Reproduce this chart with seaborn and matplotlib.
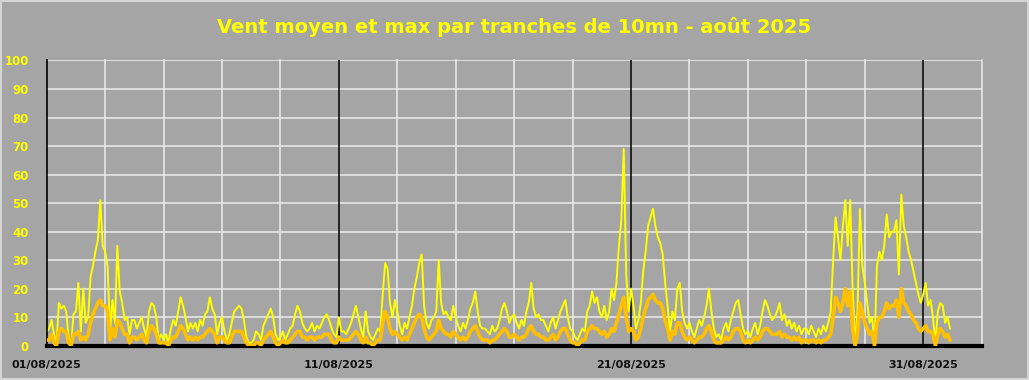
import numpy as np
import pandas as pd
import matplotlib
matplotlib.use("Agg")
import matplotlib.pyplot as plt
from matplotlib.patches import Rectangle
import seaborn as sns

# 2-hour readings (12 per day), Aug 1 .. Aug 31 2025
vent_max = [
    [5, 6, 9, 4, 0, 15, 13, 14, 12, 3, 0, 11],
    [12, 22, 5, 20, 8, 10, 24, 28, 33, 37, 51, 35],
    [33, 28, 5, 16, 8, 35, 19, 15, 9, 10, 4, 9],
    [9, 6, 8, 10, 6, 3, 12, 15, 14, 10, 2, 4],
    [2, 4, 1, 6, 9, 7, 12, 17, 14, 10, 5, 8],
    [6, 8, 5, 9, 7, 11, 12, 17, 13, 11, 4, 8],
    [10, 5, 2, 4, 8, 12, 13, 14, 13, 9, 3, 1],
    [1, 2, 5, 4, 2, 7, 9, 11, 13, 10, 4, 2],
    [3, 5, 2, 4, 6, 7, 11, 14, 12, 8, 6, 5],
    [6, 8, 5, 7, 6, 8, 10, 11, 9, 6, 4, 3],
    [10, 5, 5, 4, 6, 8, 11, 14, 10, 6, 3, 12],
    [5, 3, 2, 4, 6, 5, 18, 29, 27, 15, 10, 16],
    [12, 7, 4, 8, 6, 10, 14, 20, 24, 29, 32, 14],
    [8, 6, 9, 10, 12, 30, 15, 11, 12, 10, 9, 14],
    [10, 7, 5, 8, 6, 9, 13, 15, 19, 12, 7, 6],
    [6, 5, 4, 7, 5, 6, 9, 13, 15, 12, 8, 10],
    [11, 8, 6, 9, 7, 12, 15, 22, 13, 10, 11, 9],
    [9, 7, 5, 8, 10, 6, 9, 12, 14, 16, 10, 6],
    [5, 3, 2, 4, 6, 5, 12, 14, 19, 15, 17, 12],
    [10, 14, 9, 12, 20, 16, 22, 35, 44, 69, 25, 12],
    [20, 14, 6, 9, 15, 26, 33, 42, 45, 48, 42, 38],
    [36, 32, 22, 14, 5, 12, 9, 20, 22, 12, 8, 6],
    [8, 5, 3, 6, 9, 7, 10, 14, 20, 12, 6, 3],
    [4, 2, 6, 8, 5, 9, 12, 15, 16, 11, 6, 4],
    [5, 3, 6, 8, 4, 7, 12, 16, 14, 11, 9, 10],
    [12, 15, 9, 11, 7, 9, 6, 8, 5, 7, 4, 6],
    [6, 4, 7, 5, 3, 6, 4, 7, 5, 8, 12, 30],
    [45, 38, 30, 42, 51, 35, 51, 20, 0, 12, 48, 28],
    [22, 15, 8, 10, 0, 28, 33, 30, 35, 46, 38, 40],
    [40, 44, 25, 53, 42, 38, 33, 30, 26, 22, 18, 15],
    [18, 22, 14, 16, 10, 1, 12, 15, 14, 8, 10, 6],
]
vent_moyen = [
    [2, 2, 4, 1, 0, 5, 6, 5, 5, 1, 0, 4],
    [4, 5, 2, 3, 2, 4, 8, 11, 13, 15, 16, 14],
    [14, 12, 2, 6, 3, 9, 8, 6, 4, 4, 1, 3],
    [3, 2, 3, 4, 2, 1, 5, 7, 6, 4, 1, 1],
    [1, 1, 0, 2, 3, 3, 5, 7, 6, 4, 2, 3],
    [2, 3, 2, 3, 3, 4, 5, 6, 5, 4, 1, 3],
    [3, 2, 1, 1, 3, 5, 5, 5, 5, 3, 1, 0],
    [0, 0, 1, 1, 0, 2, 3, 4, 5, 3, 1, 0],
    [1, 2, 1, 1, 2, 3, 4, 5, 5, 3, 3, 2],
    [3, 3, 2, 3, 3, 3, 4, 4, 4, 2, 1, 1],
    [3, 2, 2, 2, 2, 3, 4, 5, 4, 2, 1, 3],
    [1, 1, 0, 1, 2, 2, 8, 12, 10, 6, 4, 5],
    [4, 3, 2, 3, 2, 4, 6, 8, 10, 11, 10, 6],
    [3, 2, 3, 4, 5, 9, 6, 5, 4, 4, 3, 5],
    [4, 3, 2, 3, 2, 3, 5, 6, 7, 5, 3, 2],
    [2, 2, 1, 2, 2, 3, 4, 5, 6, 5, 3, 3],
    [4, 3, 2, 3, 3, 4, 6, 7, 5, 4, 4, 3],
    [3, 2, 2, 3, 4, 2, 3, 5, 6, 6, 4, 2],
    [1, 1, 0, 1, 2, 2, 5, 6, 7, 6, 6, 5],
    [4, 5, 3, 4, 6, 5, 8, 11, 14, 17, 10, 5],
    [6, 5, 2, 3, 6, 10, 13, 16, 17, 18, 16, 15],
    [15, 13, 9, 6, 2, 5, 4, 8, 8, 5, 3, 2],
    [3, 2, 1, 2, 3, 3, 4, 6, 7, 5, 2, 1],
    [1, 1, 2, 3, 2, 3, 5, 6, 6, 5, 2, 1],
    [2, 1, 2, 3, 2, 3, 5, 6, 6, 5, 4, 4],
    [4, 5, 3, 4, 3, 3, 2, 3, 2, 3, 1, 2],
    [2, 1, 2, 2, 1, 2, 1, 2, 2, 3, 4, 10],
    [17, 15, 12, 15, 20, 14, 19, 6, 0, 4, 15, 12],
    [8, 6, 4, 5, 0, 8, 10, 10, 12, 15, 13, 14],
    [14, 16, 10, 20, 15, 14, 12, 11, 9, 8, 6, 5],
    [6, 7, 5, 5, 4, 0, 4, 6, 5, 3, 4, 2],
]
tick_labels = ["01/08/2025", "11/08/2025", "21/08/2025", "31/08/2025"]
title = "Vent moyen et max par tranches de 10mn - août 2025"

max_flat = [v for day in vent_max for v in day]
moy_flat = [v for day in vent_moyen for v in day]
times = pd.date_range("2025-08-01 00:00", periods=len(max_flat), freq="2h")
df = pd.DataFrame({"t": times, "max": max_flat, "moyen": moy_flat})

BG = "#a5a5a5"
fig = plt.figure(figsize=(10.29, 3.80), dpi=100, facecolor=BG)
ax = fig.add_axes([0.0454, 0.0903, 0.9086, 0.7505])
ax.set_facecolor(BG)

start = pd.Timestamp("2025-08-01")
end = pd.Timestamp("2025-09-02")
ax.set_xlim(start, end)
ax.set_ylim(0, 100)

# grid
for y in range(10, 101, 10):
    ax.axhline(y, color="#ececec", lw=1.1, zorder=0.5)
for d in pd.date_range(start, end, freq="2D"):
    if d.day in (11, 21, 31) and d.month == 8:
        ax.axvline(d, color="black", lw=1.1, zorder=0.6)
    elif d != start:
        ax.axvline(d, color="#ececec", lw=1.1, zorder=0.5, clip_on=False)

ax.axhline(0, color="black", lw=3, zorder=1.5, clip_on=False)

sns.lineplot(data=df, x="t", y="max", ax=ax, color="#ffff00", lw=1.4, zorder=2)
sns.lineplot(data=df, x="t", y="moyen", ax=ax, color="#ffc000", lw=2.6, zorder=3)

for s in ["top", "right", "bottom"]:
    ax.spines[s].set_visible(False)
ax.spines["left"].set_color("black")
ax.spines["left"].set_linewidth(1.2)

ax.set_yticks(range(0, 101, 10))
ax.set_yticklabels([str(v) for v in range(0, 101, 10)], color="#ffff00",
                   fontweight="bold", fontsize=8.5)
ticks = [pd.Timestamp(x) for x in ["2025-08-01", "2025-08-11", "2025-08-21", "2025-08-31"]]
ax.set_xticks(ticks)
ax.set_xticklabels(tick_labels, color="#111111", fontsize=8, fontweight="semibold")
ax.tick_params(axis="y", length=0, pad=13)
ax.tick_params(axis="x", length=0, pad=10)
ax.set_xlabel("")
ax.set_ylabel("")

fig.text(0.5, 0.928, title, ha="center", va="center", color="#ffff00",
         fontsize=14, fontweight="bold")

fig.patches.append(Rectangle((0.001, 0.002), 0.998, 0.996, transform=fig.transFigure,
                             fill=False, edgecolor="#d4d4d4", lw=1.5))

fig.savefig("out.png", dpi=100, facecolor=BG)
